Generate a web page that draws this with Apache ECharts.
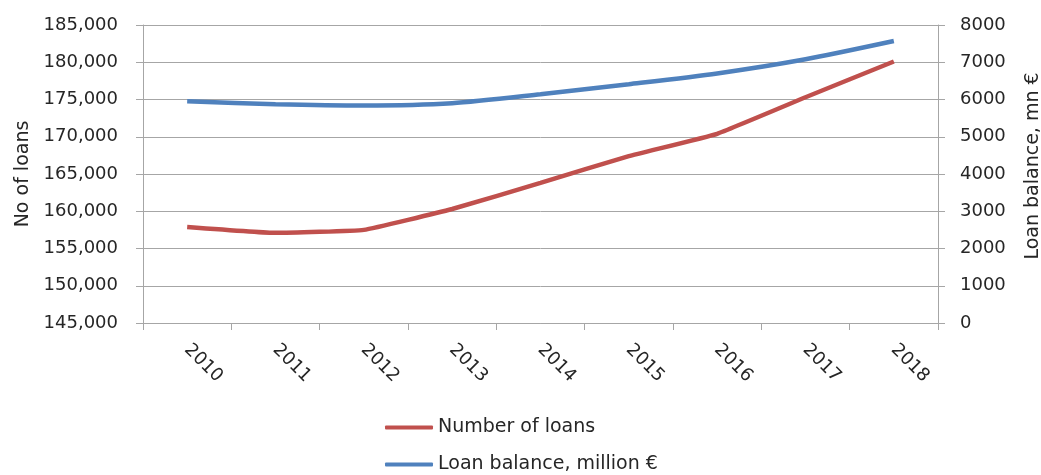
<!DOCTYPE html>
<html>
<head>
<meta charset="utf-8">
<script src="https://cdn.jsdelivr.net/npm/echarts@6/dist/echarts.min.js"></script>
<style>
html,body{margin:0;padding:0;background:#fff;}
#chart{width:1041px;height:475px;}
</style>
</head>
<body>
<div id="chart"></div>
<script>
const years = ['2010','2011','2012','2013','2014','2015','2016','2017','2018'];
const numberOfLoans = [157900, 157100, 157500, 160300, 163800, 167400, 170400, 175300, 180100];
const loanBalance = [5950, 5875, 5840, 5900, 6140, 6410, 6700, 7080, 7570];
const seriesNames = ['Number of loans', 'Loan balance, million €'];
const leftAxisName = 'No of loans';
const rightAxisName = 'Loan balance, mn €';

const FONT = 'DejaVu Sans';
const TXT = '#262626';
const GRID = '#A6A6A6';

function legendFor(name, top) {
  return {
    orient: 'horizontal',
    left: 385,
    top: top,
    padding: 0,
    itemWidth: 48,
    itemHeight: 4,
    icon: 'roundRect',
    textStyle: {fontFamily: FONT, fontSize: 19, color: TXT},
    data: [name]
  };
}

const chart = echarts.init(document.getElementById('chart'), null, {renderer: 'canvas'});
chart.setOption({
  animation: false,
  backgroundColor: '#fff',
  textStyle: {fontFamily: FONT},
  grid: {left: 143, right: 103, top: 25, bottom: 152, containLabel: false, outerBoundsMode: 'none'},
  legend: [legendFor(seriesNames[0], 418), legendFor(seriesNames[1], 455)],
  xAxis: {
    type: 'category',
    data: years,
    boundaryGap: true,
    axisLine: {lineStyle: {color: GRID, width: 1}},
    axisTick: {show: true, length: 7, interval: 0, lineStyle: {color: GRID}},
    axisLabel: {
      interval: 0, rotate: -45, fontSize: 18, color: TXT, fontFamily: FONT,
      margin: 24, align: 'left', verticalAlign: 'middle'
    },
    splitLine: {show: false}
  },
  yAxis: [
    {
      type: 'value', min: 145000, max: 185000, interval: 5000,
      name: leftAxisName, nameLocation: 'middle', nameGap: 110,
      nameTextStyle: {fontSize: 19, color: TXT, fontFamily: FONT},
      axisLine: {show: true, lineStyle: {color: GRID}},
      axisTick: {show: true, length: 7, lineStyle: {color: GRID}},
      axisLabel: {
        fontSize: 18, color: TXT, fontFamily: FONT, margin: 25,
        formatter: v => String(v).replace(/\B(?=(\d{3})+(?!\d))/g, ',')
      },
      splitLine: {show: true, lineStyle: {color: GRID, width: 1}}
    },
    {
      type: 'value', min: 0, max: 8000, interval: 1000, position: 'right',
      name: rightAxisName, nameLocation: 'middle', nameGap: 86,
      nameTextStyle: {fontSize: 19, color: TXT, fontFamily: FONT, padding: [0, 0, 0, 16]},
      axisLine: {show: true, lineStyle: {color: GRID}},
      axisTick: {show: true, length: 7, lineStyle: {color: GRID}},
      axisLabel: {fontSize: 18, color: TXT, fontFamily: FONT, margin: 22, formatter: v => String(v)},
      splitLine: {show: false}
    }
  ],
  series: [
    {
      name: seriesNames[0], type: 'line', yAxisIndex: 0, data: numberOfLoans,
      symbol: 'none', smooth: 0.1,
      lineStyle: {color: '#C0504D', width: 4.5},
      itemStyle: {color: '#C0504D'}
    },
    {
      name: seriesNames[1], type: 'line', yAxisIndex: 1, data: loanBalance,
      symbol: 'none', smooth: 0.25,
      lineStyle: {color: '#4F81BD', width: 4.5},
      itemStyle: {color: '#4F81BD'}
    }
  ]
});
</script>
</body>
</html>
